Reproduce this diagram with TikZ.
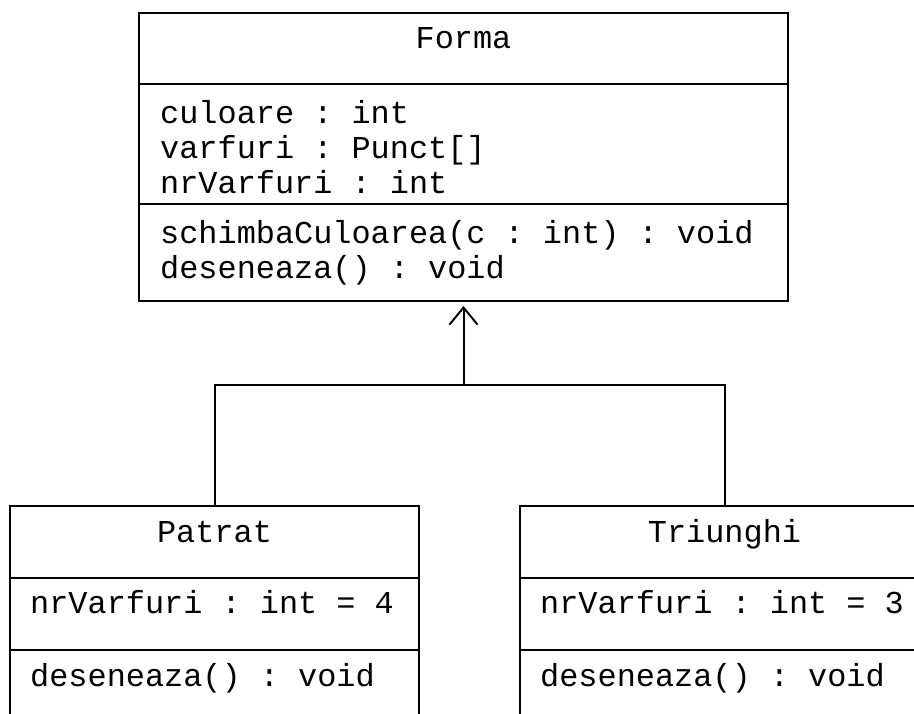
\documentclass[tikz,border=0pt]{standalone}
\usepackage{fontspec}
\usepackage{tikz}
\usetikzlibrary{arrows.meta, positioning}
\newfontfamily\umlmono{Liberation Mono}
\newcommand{\umlfont}{\umlmono\fontsize{31.9}{35}\selectfont\frenchspacing}

\tikzset{
  classpart/.style={draw=black, line width=2pt, inner sep=0pt, outer sep=0pt, anchor=north west},
  nametext/.style={font=\umlfont, inner sep=0pt, anchor=base},
  membertext/.style={font=\umlfont, inner sep=0pt, anchor=base west},
  genline/.style={draw=black, line width=2pt},
}

\begin{document}
\begin{tikzpicture}[x=1pt, y=-1pt]

  \useasboundingbox (0,0) rectangle (914,713);
  \clip (0,0) rectangle (914,713);

  %% Forma (base class)
  \node[classpart, minimum width=649pt, minimum height=71pt] (forma-name) at (139,13) {};
  \node[classpart, minimum width=649pt, minimum height=120pt] (forma-attr) at (139,84) {};
  \node[classpart, minimum width=649pt, minimum height=97pt] (forma-ops) at (139,204) {};
  \node[nametext] (forma-label) at (463.5,48) {Forma};
  \foreach \i/\t in {0/{culoare : int}, 1/{varfuri : Punct[]}, 2/{nrVarfuri : int}}{
    \node[membertext] (forma-attr-\i) at (160,{123+35*\i}) {\t};
  }
  \foreach \i/\t in {0/{schimbaCuloarea(c : int) : void}, 1/{deseneaza() : void}}{
    \node[membertext] (forma-op-\i) at (160,{243+35*\i}) {\t};
  }

  %% Patrat and Triunghi (subclasses)
  \foreach \cls/\Cls/\x/\n in {patrat/Patrat/10/4, triunghi/Triunghi/520/3}{
    \node[classpart, minimum width=409pt, minimum height=72pt] (\cls-name) at (\x,506) {};
    \node[classpart, minimum width=409pt, minimum height=72pt] (\cls-attr) at (\x,578) {};
    \node[classpart, minimum width=409pt, minimum height=72pt] (\cls-ops) at (\x,650) {};
    \node[nametext] (\cls-label) at ({\x+204.5},542) {\Cls};
    \node[membertext] (\cls-attr-0) at ({\x+20},613) {nrVarfuri : int = \n};
    \node[membertext] (\cls-op-0) at ({\x+20},686) {deseneaza() : void};
  }

  %% generalisation
  \coordinate (hub) at (forma-ops.south |- 0,385);
  \draw[genline] (patrat-name.north) |- (hub) -| (triunghi-name.north);
  \draw[genline, -{Straight Barb[length=17pt, width=28pt]}] (hub) -- ([yshift=-5pt]forma-ops.south);

\end{tikzpicture}
\end{document}
